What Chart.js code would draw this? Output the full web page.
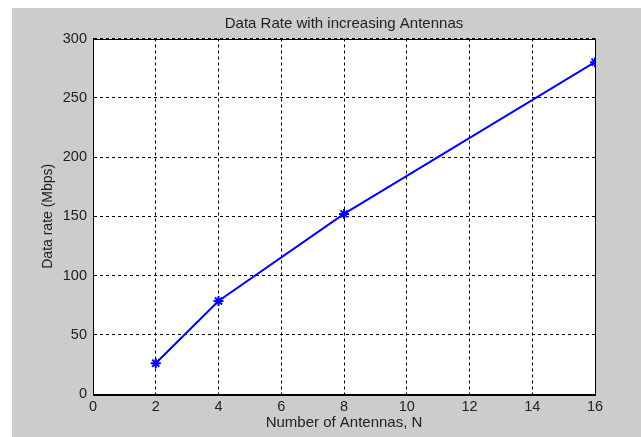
<!DOCTYPE html>
<html>
<head>
<meta charset="utf-8">
<script src="https://cdn.jsdelivr.net/npm/chart.js@4.4.1/dist/chart.umd.min.js"></script>
<style>
  html, body { margin: 0; padding: 0; background: #fff; }
  #chart { position: absolute; left: 12px; top: 8px; background: #cccccc; }
</style>
</head>
<body>
<canvas id="chart" width="629" height="429"></canvas>
<script>
// ====== DATA ======
const antennas = [2, 4, 8, 16];
const dataRate = [26, 78.5, 152, 280];
const xTicks = [0, 2, 4, 6, 8, 10, 12, 14, 16];
const yTicks = [0, 50, 100, 150, 200, 250, 300];

const FONT = "'Liberation Sans', Arial, sans-serif";
const TEXT = "#222";

// white plot area + black box round it, like the matlab axes
const axesBox = {
  id: "axesBox",
  afterLayout(chart) {
    // matlab centres the title over the axes, not over the figure
    const t = chart.titleBlock;
    if (t) { t.left = chart.chartArea.left; t.right = chart.chartArea.right; }
  },
  beforeDraw(chart) {
    const { ctx, chartArea: a } = chart;
    ctx.save();
    ctx.fillStyle = "#fff";
    ctx.fillRect(a.left, a.top, a.right - a.left, a.bottom - a.top);
    ctx.restore();
  },
  afterDraw(chart) {
    const { ctx, chartArea: a } = chart;
    ctx.save();
    ctx.strokeStyle = "#000";
    ctx.lineWidth = 1;
    ctx.strokeRect(Math.round(a.left) + 0.5, Math.round(a.top) + 0.5,
      Math.round(a.right - a.left), Math.round(a.bottom - a.top));
    ctx.restore();
  }
};

const gridOpts = {
  color: "#000",
  lineWidth: 1,
  drawTicks: false
};

new Chart(document.getElementById("chart").getContext("2d"), {
  type: "line",
  data: {
    datasets: [{
      data: antennas.map((n, i) => ({ x: n, y: dataRate[i] })),
      borderColor: "#0000ff",
      backgroundColor: "#0000ff",
      borderWidth: 2,
      pointStyle: "star",
      pointRadius: 5,
      pointBorderWidth: 2,
      pointBorderColor: "#0000ff",
      tension: 0,
      fill: false
    }]
  },
  options: {
    responsive: false,
    animation: false,
    layout: { padding: { left: 0, right: 46, top: 0, bottom: 0 } },
    plugins: {
      legend: { display: false },
      tooltip: { enabled: false },
      title: {
        display: true,
        text: "Data Rate with increasing Antennas",
        color: TEXT,
        font: { family: FONT, size: 15, weight: "normal" },
        padding: { top: 7, bottom: 5.5 }
      }
    },
    scales: {
      x: {
        type: "linear",
        min: 0,
        max: 16,
        afterBuildTicks: (s) => { s.ticks = xTicks.map(v => ({ value: v })); },
        afterFit: (s) => { s.height = 43; },
        ticks: { color: TEXT, font: { family: FONT, size: 14.5 }, padding: 4 },
        grid: gridOpts,
        border: { display: true, color: "#000", dash: [3, 3] },
        title: {
          display: true,
          text: "Number of Antennas, N",
          color: TEXT,
          font: { family: FONT, size: 15 },
          padding: { top: 2, bottom: 5 }
        }
      },
      y: {
        type: "linear",
        min: 0,
        max: 300,
        afterBuildTicks: (s) => { s.ticks = yTicks.map(v => ({ value: v })); },
        afterFit: (s) => { s.width = 81; },
        ticks: { color: TEXT, font: { family: FONT, size: 14.5 }, padding: 6 },
        grid: gridOpts,
        border: { display: true, color: "#000", dash: [3, 3] },
        title: {
          display: true,
          text: "Data rate (Mbps)",
          color: TEXT,
          font: { family: FONT, size: 14 },
          padding: { top: 27.5, bottom: 0 }
        }
      }
    }
  },
  plugins: [axesBox]
});
</script>
</body>
</html>
